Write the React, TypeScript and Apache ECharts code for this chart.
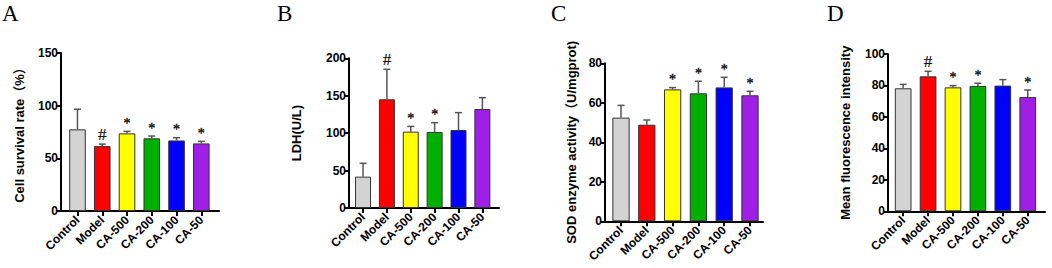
import React, { useEffect, useRef } from "react";
import * as echarts from "echarts";

const categories = ["Control", "Model", "CA-500", "CA-200", "CA-100", "CA-50"];
const barColors = ["#d3d3d3", "#ff0000", "#ffff00", "#00b000", "#0000ff", "#a01fe6"];

// Panel A: cell survival rate (%)
const survivalMean = [77.5, 61.6, 73.7, 69.0, 67.0, 64.2];
const survivalSd = [19.1, 1.9, 1.9, 2.2, 2.6, 1.9];
const survivalMarks = ["", "#", "*", "*", "*", "*"];

// Panel B: LDH (U/L)
const ldhMean = [41.9, 145.2, 102.0, 101.6, 104.2, 132.3];
const ldhSd = [17.8, 40.1, 7.0, 12.4, 23.2, 15.1];
const ldhMarks = ["", "#", "*", "*", "", ""];

// Panel C: SOD enzyme activity (U/mgprot)
const sodMean = [52.5, 48.9, 66.8, 64.8, 67.8, 63.8];
const sodSd = [6.2, 2.4, 0.9, 6.1, 5.1, 2.0];
const sodMarks = ["", "", "*", "*", "*", "*"];

// Panel D: mean fluorescence intensity
const mfiMean = [78.2, 85.8, 78.8, 79.7, 79.9, 72.7];
const mfiSd = [2.5, 3.2, 1.1, 1.7, 3.8, 4.4];
const mfiMarks = ["", "#", "*", "*", "", "*"];

const yMax = [150, 200, 80, 100];
const yInterval = [50, 50, 20, 20];
const yNames = ["Cell survival rate（%）", "LDH(U/L)", "SOD enzyme activity（U/mgprot)", "Mean fluorescence intensity"];
const letters = ["A", "B", "C", "D"];

const SANS = "'Liberation Sans', Arial, 'Noto Sans CJK SC', sans-serif";
const SERIF = "'Liberation Serif', 'Times New Roman', serif";

const layout = [
  { yX: 61, top: 53, bottom: 211, xEnd: 219, mainLeft: 65.1, mainW: 148.6, nameGap: 35, letterX: 2 },
  { yX: 349, top: 58.3, bottom: 208, xEnd: 499, mainLeft: 351.1, mainW: 143.2, nameGap: 46, letterX: 277 },
  { yX: 605, top: 63.3, bottom: 221.3, xEnd: 763, mainLeft: 608.1, mainW: 154.8, nameGap: 27, letterX: 551 },
  { yX: 888, top: 54, bottom: 211.3, xEnd: 1045, mainLeft: 890.7, mainW: 149.5, nameGap: 36, letterX: 827 },
];

const means = [survivalMean, ldhMean, sodMean, mfiMean];
const sds = [survivalSd, ldhSd, sodSd, mfiSd];
const marks = [survivalMarks, ldhMarks, sodMarks, mfiMarks];

function buildOption() {
  const grid: any[] = [];
  const xAxis: any[] = [];
  const yAxis: any[] = [];
  const series: any[] = [];
  const graphic: any[] = [];

  layout.forEach((L, p) => {
    const h = L.bottom - L.top;
    grid.push({ left: L.yX, top: L.top, width: L.xEnd - L.yX, height: h, outerBoundsMode: "none", containLabel: false });
    grid.push({ left: L.mainLeft, top: L.top, width: L.mainW, height: h, outerBoundsMode: "none", containLabel: false });
    const fi = 2 * p;
    const mi = 2 * p + 1;

    xAxis.push({
      gridIndex: fi,
      type: "value",
      min: 0,
      max: 1,
      axisLine: { show: true, onZero: false, lineStyle: { color: "#000", width: 2 } },
      axisTick: { show: false },
      axisLabel: { show: false },
      splitLine: { show: false },
    });
    xAxis.push({
      gridIndex: mi,
      type: "category",
      data: categories,
      axisLine: { show: false },
      axisTick: { show: true, alignWithLabel: true, length: 5, lineStyle: { color: "#000", width: 2 } },
      axisLabel: {
        interval: 0,
        rotate: 45,
        margin: 7,
        fontSize: 12,
        fontWeight: "bold",
        color: "#000",
        fontFamily: SANS,
      },
      splitLine: { show: false },
    });

    yAxis.push({
      gridIndex: fi,
      type: "value",
      min: 0,
      max: yMax[p],
      interval: yInterval[p],
      axisLine: { show: true, onZero: false, lineStyle: { color: "#000", width: 2 } },
      axisTick: { show: true, length: 4, lineStyle: { color: "#000", width: 2 } },
      axisLabel: { margin: 3, fontSize: 12, fontWeight: "bold", color: "#000", fontFamily: SANS },
      splitLine: { show: false },
      name: yNames[p],
      nameLocation: "middle",
      nameGap: L.nameGap,
      nameTextStyle: { fontSize: 13, fontWeight: "bold", color: "#000", fontFamily: SANS },
    });
    yAxis.push({ gridIndex: mi, type: "value", min: 0, max: yMax[p], show: false });

    const mean = means[p];
    const sd = sds[p];
    const mk = marks[p];

    series.push({
      type: "bar",
      xAxisIndex: mi,
      yAxisIndex: mi,
      barWidth: "67%",
      itemStyle: { borderColor: "#333", borderWidth: 1 },
      data: mean.map((v, j) => ({ value: v, itemStyle: { color: barColors[j] } })),
      z: 2,
    });

    series.push({
      type: "custom",
      xAxisIndex: mi,
      yAxisIndex: mi,
      z: 3,
      itemStyle: { color: "#111" },
      encode: { x: 0, y: [1, 2] },
      data: mean.map((v, j) => [j, v, v + sd[j]]),
      renderItem: (params: any, api: any) => {
        const x = api.value(0);
        const base = api.coord([x, api.value(1)]);
        const top = api.coord([x, api.value(2)]);
        const children: any[] = [
          {
            type: "line",
            shape: { x1: base[0], y1: base[1], x2: top[0], y2: top[1] },
            style: { stroke: "#555", lineWidth: 1.5 },
          },
          {
            type: "line",
            shape: { x1: top[0] - 3.5, y1: top[1], x2: top[0] + 3.5, y2: top[1] },
            style: { stroke: "#555", lineWidth: 1.5 },
          },
        ];
        const m = mk[params.dataIndex];
        if (m) {
          children.push({
            type: "text",
            x: top[0],
            y: top[1] - 1,
            style: {
              text: m,
              align: "center",
              verticalAlign: "bottom",
              fontSize: m === "#" ? 17 : 14,
              fontFamily: SERIF,
              fill: "#111",
              stroke: "#111",
              lineWidth: m === "#" ? 0.2 : 0.4,
            },
          });
        }
        return { type: "group", children };
      },
    });

    graphic.push({
      type: "text",
      left: L.letterX,
      top: 2,
      style: { text: letters[p], fontSize: 23, fontFamily: SERIF, fill: "#000" },
    });
  });

  return { animation: false, backgroundColor: "#fff", grid, xAxis, yAxis, series, graphic };
}

export default function App() {
  const ref = useRef<HTMLDivElement>(null);
  useEffect(() => {
    if (!ref.current) return;
    const chart = echarts.init(ref.current, undefined, { renderer: "svg" });
    chart.setOption(buildOption() as any);
    return () => chart.dispose();
  }, []);
  return (
    <div
      ref={ref}
      style={{ position: "fixed", left: 0, top: 0, width: 1052, height: 268, background: "#fff" }}
    />
  );
}
